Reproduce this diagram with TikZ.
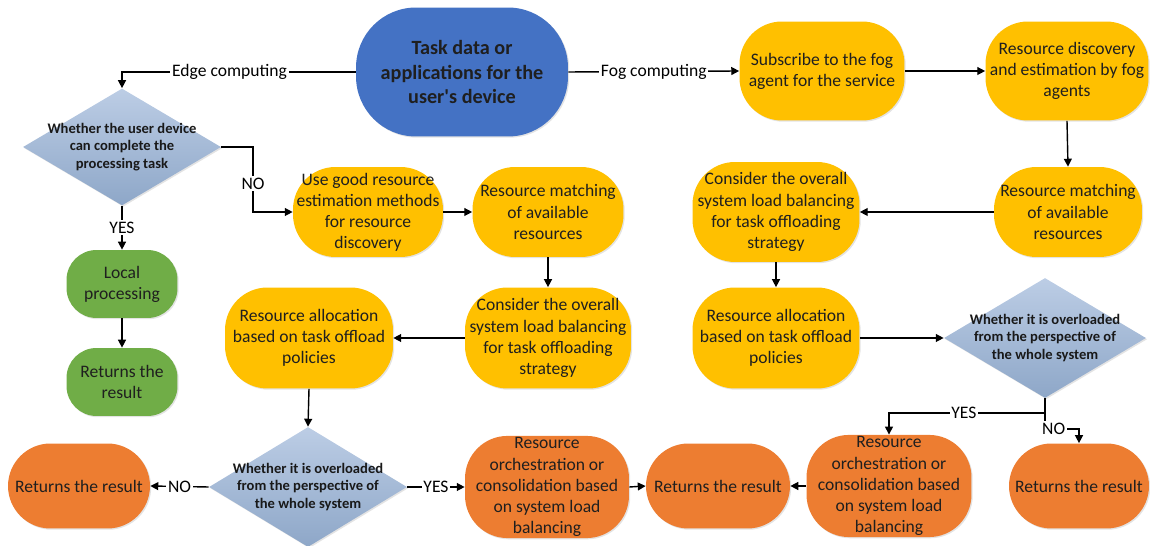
\documentclass[tikz,border=0pt]{standalone}
\usepackage{fontspec}
\setmainfont{Carlito}
\usetikzlibrary{arrows.meta,shapes.geometric,shadows}
\definecolor{taskblue}{HTML}{4472C4}
\definecolor{fogyellow}{HTML}{FFC000}
\definecolor{localgreen}{HTML}{70AD47}
\definecolor{resorange}{HTML}{ED7D31}
\definecolor{dectop}{HTML}{BCCDE5}
\definecolor{decbottom}{HTML}{8EA7C8}
\begin{document}
\begin{tikzpicture}[x=0.02cm,y=-0.02cm,
    shade/.style={drop shadow={opacity=0.22,shadow xshift=0.7pt,shadow yshift=-0.7pt}},
    proc/.style={shade,rounded corners=0.85cm,align=center,inner sep=1pt,text=black!88,
        font=\fontsize{10}{12}\selectfont},
    fog/.style={proc,fill=fogyellow},
    local/.style={proc,fill=localgreen,rounded corners=0.6cm,minimum width=2.22cm,minimum height=1.36cm},
    res/.style={proc,fill=resorange},
    decision/.style={shade,diamond,inner sep=0pt,top color=dectop,bottom color=decbottom},
    dtext/.style={align=center,text=black!90,font=\fontsize{8.3}{10}\selectfont\bfseries},
    lbl/.style={fill=white,inner sep=1pt,font=\fontsize{10}{12}\selectfont},
    arr/.style={line width=0.8pt,-{Triangle[length=4.5pt,width=4.5pt]}}]
    \useasboundingbox (0,0) rectangle (1150,546);
    % top row
    \node[shade,fill=taskblue,rounded corners=1.2cm,minimum width=4.24cm,minimum height=2.58cm,
        align=center,text=black!88,font=\fontsize{11.5}{14}\selectfont\bfseries] (task) at (462,72)
        {Task data or\\applications for the\\user\textquotesingle s device};
    \node[fog,minimum width=3.3cm,minimum height=1.98cm] (sub) at (822,71)
        {Subscribe to the fog\\agent for the service};
    \node[fog,minimum width=3.26cm,minimum height=1.98cm] (disc) at (1067,71)
        {Resource discovery\\and estimation by fog\\agents};
    % edge computing side
    \node[decision,minimum width=3.96cm,minimum height=2.34cm] (decU) at (122,147) {};
    \node[dtext] (decUt) at (decU) {Whether the user device\\can complete the\\processing task};
    \node[local] (local) at (122,284) {Local\\processing};
    \node[local] (retG) at (122,382) {Returns the\\result};
    \node[fog,minimum width=3cm,minimum height=1.8cm] (useres) at (368,212)
        {Use good resource\\estimation methods\\for resource\\discovery};
    \node[fog,minimum width=3.02cm,minimum height=1.8cm] (matchL) at (548,212)
        {Resource matching\\of available\\resources};
    \node[fog,minimum width=3.32cm,minimum height=2.02cm] (consL) at (548,338)
        {Consider the overall\\system load balancing\\for task offloading\\strategy};
    \node[fog,minimum width=3.36cm,minimum height=2.02cm] (allocL) at (309,338)
        {Resource allocation\\based on task offload\\policies};
    \node[decision,minimum width=3.96cm,minimum height=2.4cm] (decL) at (308,487) {};
    \node[dtext] (decLt) at (decL) {Whether it is overloaded\\from the perspective of\\the whole system};
    \node[res,minimum width=2.84cm,minimum height=1.7cm] (retL) at (79,486) {Returns the result};
    \node[res,minimum width=3.28cm,minimum height=2cm] (orchL) at (547,487)
        {Resource\\orchestration or\\consolidation based\\on system load\\balancing};
    \node[res,minimum width=2.88cm,minimum height=1.7cm] (retM) at (718,486) {Returns the result};
    % fog computing side
    \node[fog,minimum width=2.96cm,minimum height=1.8cm] (matchR) at (1068,212)
        {Resource matching\\of available\\resources};
    \node[fog,minimum width=3.34cm,minimum height=2cm] (consR) at (776,212)
        {Consider the overall\\system load balancing\\for task offloading\\strategy};
    \node[fog,minimum width=3.34cm,minimum height=2.02cm] (allocR) at (776,338)
        {Resource allocation\\based on task offload\\policies};
    \node[decision,minimum width=4.04cm,minimum height=2.4cm] (decR) at (1045,338) {};
    \node[dtext] (decRt) at (decR) {Whether it is overloaded\\from the perspective of\\the whole system};
    \node[res,minimum width=3.3cm,minimum height=2cm] (orchR) at (889,486)
        {Resource\\orchestration or\\consolidation based\\on system load\\balancing};
    \node[res,minimum width=2.8cm,minimum height=1.7cm] (retR) at (1079,486) {Returns the result};
    \coordinate (noU) at (253,147);
    \coordinate (yesR) at (1045,413);
    \coordinate (noR) at (1045,429);
    % connectors
    \draw[arr] (task.west) -| node[lbl,pos=0.27]{Edge computing} (decU.north);
    \draw[arr] (task.east) -- node[lbl]{Fog computing} (sub.west);
    \draw[arr] (decU.south) -- node[lbl]{YES} (local.north);
    \draw[arr] (decU.east) -- (noU) |- node[lbl,pos=0.28]{NO} (useres.west);
    \draw[arr] (decL.west) -- node[lbl]{NO} (retL.east);
    \draw[arr] (decL.east) -- node[lbl]{YES} (orchL.west);
    \draw[arr] (decR.south) -- (yesR) -| node[lbl,pos=0.26]{YES} (orchR.north);
    \draw[arr] (decR.south) -- (noR) node[lbl,anchor=west,xshift=-3pt]{NO} -| (retR.north);
    \foreach \a/\b in {sub.east/disc.west, disc.south/matchR.north, matchR.west/consR.east,
        consR.south/allocR.north, allocR.east/decR.west, orchR.west/retM.east,
        local.south/retG.north, useres.east/matchL.west, matchL.south/consL.north,
        consL.west/allocL.east, allocL.south/decL.north, orchL.east/retM.west}
        \draw[arr] (\a) -- (\b);
\end{tikzpicture}
\end{document}
